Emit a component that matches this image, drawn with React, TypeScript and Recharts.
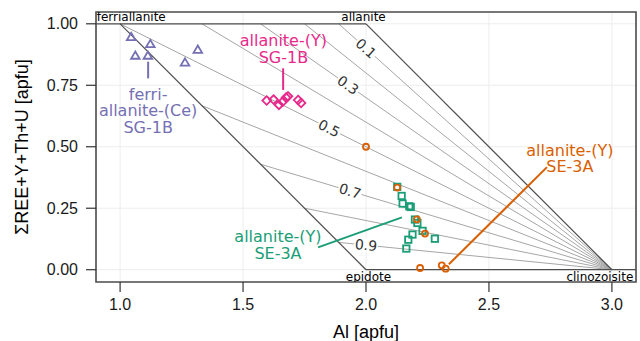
import {
  CartesianGrid,
  ReferenceArea,
  ReferenceLine,
  Scatter,
  ScatterChart,
  XAxis,
  YAxis,
} from "recharts";

const xTicks = [1, 1.5, 2, 2.5, 3];
const yTicks = [0, 0.25, 0.5, 0.75, 1];

// end members of the allanite field
const endMembers = [
  { name: "ferriallanite", x: 0.905, y: 1 },
  { name: "allanite", x: 1.99, y: 1 },
  { name: "epidote", x: 2.01, y: 0 },
  { name: "clinozoisite", x: 3.087, y: 0 },
];

// outline of the field
const fieldEdges = [
  [{ x: 0.902, y: 1 }, { x: 2, y: 1 }],
  [{ x: 1, y: 1 }, { x: 2, y: 0 }],
  [{ x: 2, y: 1 }, { x: 3, y: 0 }],
  [{ x: 2, y: 0 }, { x: 3.098, y: 0 }],
];

// Fe3+/(Fe3+ + Fe2+) isolines, all meet at clinozoisite (3, 0)
const fanRatio = [0.1, 0.2, 0.3, 0.4, 0.5, 0.6, 0.7, 0.8, 0.9];
const fanEndX = [1.889, 1.75, 1.571, 1.333, 1.0, 1.333, 1.571, 1.75, 1.889];
const fanEndY = [1, 1, 1, 1, 1, 0.667, 0.429, 0.25, 0.111];

const fanLabelText = ["0.1", "0.3", "0.5", "0.7", "0.9"];
const fanLabelX = [2.0, 1.927, 1.85, 1.935, 2.0];
const fanLabelY = [0.9, 0.751, 0.575, 0.32, 0.1];

const ferriAllaniteSG1B = [
  { x: 1.045, y: 0.946 },
  { x: 1.123, y: 0.917 },
  { x: 1.062, y: 0.87 },
  { x: 1.113, y: 0.87 },
  { x: 1.264, y: 0.842 },
  { x: 1.316, y: 0.894 },
];

const allaniteSG1B = [
  { x: 1.596, y: 0.688 },
  { x: 1.624, y: 0.692 },
  { x: 1.646, y: 0.67 },
  { x: 1.661, y: 0.683 },
  { x: 1.675, y: 0.7 },
  { x: 1.683, y: 0.705 },
  { x: 1.724, y: 0.69 },
  { x: 1.736, y: 0.678 },
];

const allaniteSE3A_sq = [
  { x: 2.127, y: 0.337 },
  { x: 2.145, y: 0.3 },
  { x: 2.149, y: 0.269 },
  { x: 2.176, y: 0.258 },
  { x: 2.182, y: 0.255 },
  { x: 2.199, y: 0.204 },
  { x: 2.209, y: 0.19 },
  { x: 2.23, y: 0.158 },
  { x: 2.189, y: 0.143 },
  { x: 2.172, y: 0.122 },
  { x: 2.28, y: 0.126 },
  { x: 2.164, y: 0.086 },
];

const allaniteSE3A_ci = [
  { x: 2.0, y: 0.5 },
  { x: 2.127, y: 0.334 },
  { x: 2.207, y: 0.205 },
  { x: 2.24, y: 0.147 },
  { x: 2.22, y: 0.007 },
  { x: 2.308, y: 0.018 },
  { x: 2.324, y: 0.004 },
];

const groupLabels = [
  { text: "ferri-\nallanite-(Ce)\nSG-1B", x: 1.114, y: 0.691, color: "#7570b3" },
  { text: "allanite-(Y)\nSG-1B", x: 1.664, y: 0.908, color: "#e7298a" },
  { text: "allanite-(Y)\nSE-3A", x: 1.642, y: 0.112, color: "#1b9e77" },
  { text: "allanite-(Y)\nSE-3A", x: 2.829, y: 0.463, color: "#d95f02" },
];

const leaders = [
  { from: { x: 1.114, y: 0.846 }, to: { x: 1.114, y: 0.778 }, color: "#7570b3" },
  { from: { x: 1.663, y: 0.819 }, to: { x: 1.663, y: 0.731 }, color: "#e7298a" },
  { from: { x: 1.805, y: 0.091 }, to: { x: 2.146, y: 0.213 }, color: "#1b9e77" },
  { from: { x: 2.337, y: 0.022 }, to: { x: 2.736, y: 0.417 }, color: "#d95f02" },
];

const LABEL_FONT = "'DejaVu Sans', sans-serif";
const AXIS_FONT = "'Liberation Sans', Arial, sans-serif";

const fanLines = fanRatio.map((r, i) => ({ r, x: fanEndX[i], y: fanEndY[i] }));
const fanLabels = fanLabelText.map((t, i) => ({ text: t, x: fanLabelX[i], y: fanLabelY[i] }));

function Triangle(p: any) {
  const { cx, cy } = p;
  return (
    <path
      d={`M${cx},${cy - 4.3}L${cx + 4.3},${cy + 3}L${cx - 4.3},${cy + 3}Z`}
      fill="none"
      stroke="#7570b3"
      strokeWidth={1.8}
    />
  );
}

function Diamond(p: any) {
  const { cx, cy } = p;
  return (
    <path
      d={`M${cx},${cy - 4.3}L${cx + 4.3},${cy}L${cx},${cy + 4.3}L${cx - 4.3},${cy}Z`}
      fill="none"
      stroke="#e7298a"
      strokeWidth={1.8}
    />
  );
}

function Square(p: any) {
  const { cx, cy } = p;
  return (
    <rect
      x={cx - 3.2}
      y={cy - 3.2}
      width={6.4}
      height={6.4}
      fill="none"
      stroke="#1b9e77"
      strokeWidth={1.8}
    />
  );
}

function Ring(p: any) {
  const { cx, cy } = p;
  return <circle cx={cx} cy={cy} r={3} fill="none" stroke="#d95f02" strokeWidth={1.8} />;
}

function GroupLabel(p: any) {
  const { cx, cy, payload } = p;
  const lines: string[] = payload.text.split("\n");
  return (
    <text
      x={cx}
      y={cy}
      fill={payload.color}
      fontSize={16}
      fontFamily={LABEL_FONT}
      textAnchor="middle"
    >
      {lines.map((l, i) => (
        <tspan key={i} x={cx} dy={i === 0 ? 0 : 16.4}>
          {l}
        </tspan>
      ))}
    </text>
  );
}

function FanLabel(p: any) {
  const { cx, cy, payload } = p;
  const angle = (Math.atan(1 - parseFloat(payload.text)) * 180) / Math.PI;
  return (
    <g transform={`rotate(${angle} ${cx} ${cy})`}>
      <rect x={cx - 12} y={cy - 7} width={24} height={14} fill="#ffffff" />
      <text
        x={cx}
        y={cy}
        fill="#333333"
        fontSize={14}
        fontFamily={LABEL_FONT}
        textAnchor="middle"
        dominantBaseline="central"
      >
        {payload.text}
      </text>
    </g>
  );
}

function EndMemberLabel(p: any) {
  const { cx, cy, payload } = p;
  const anchor =
    payload.name === "ferriallanite" ? "start" : payload.name === "clinozoisite" ? "end" : "middle";
  const dy = payload.y > 0.5 ? -3 : 11;
  return (
    <text
      x={cx}
      y={cy + dy}
      fill="#000000"
      fontSize={12}
      fontFamily={LABEL_FONT}
      textAnchor={anchor}
    >
      {payload.name}
    </text>
  );
}

export default function App() {
  return (
    <div style={{ position: "fixed", left: 0, top: 0, width: 640, height: 341, background: "#fff" }}>
      <ScatterChart
        width={640}
        height={341}
        margin={{ top: 12, right: 4, bottom: 0, left: 0 }}
      >
        <CartesianGrid stroke="#ededed" strokeWidth={1} />
        <XAxis
          type="number"
          dataKey="x"
          domain={[0.902, 3.098]}
          ticks={xTicks}
          allowDataOverflow
          height={59}
          tickSize={10}
          tickMargin={7}
          axisLine={false}
          tickLine={{ stroke: "#333333", strokeWidth: 1.2 }}
          tick={{ fill: "#1a1a1a", fontSize: 16, fontFamily: AXIS_FONT }}
          tickFormatter={(v: number) => v.toFixed(1)}
          label={{
            content: (lp: any) => {
              const vb = lp.viewBox ?? { x: 96, y: 282, width: 540, height: 59 };
              return (
                <text
                  x={vb.x + vb.width / 2}
                  y={vb.y + 56}
                  textAnchor="middle"
                  fill="#000"
                  fontSize={18}
                  fontFamily={AXIS_FONT}
                >
                  Al [apfu]
                </text>
              );
            },
          }}
        />
        <YAxis
          type="number"
          dataKey="y"
          domain={[-0.05, 1.048]}
          ticks={yTicks}
          allowDataOverflow
          width={96}
          tickSize={10}
          tickMargin={8}
          axisLine={false}
          tickLine={{ stroke: "#333333", strokeWidth: 1.2 }}
          tick={{ fill: "#1a1a1a", fontSize: 16, fontFamily: AXIS_FONT }}
          tickFormatter={(v: number) => v.toFixed(2)}
          label={{
            content: (lp: any) => {
              const vb = lp.viewBox ?? { x: 0, y: 12, width: 96, height: 270 };
              const cx = vb.x + 28;
              const cy = vb.y + vb.height / 2;
              return (
                <text
                  x={cx}
                  y={cy}
                  transform={`rotate(-90 ${cx} ${cy})`}
                  textAnchor="middle"
                  fill="#000"
                  fontSize={18}
                  fontFamily={AXIS_FONT}
                >
                  ΣREE+Y+Th+U [apfu]
                </text>
              );
            },
          }}
        />

        {fanLines.map((f) => (
          <ReferenceLine
            key={`fan-${f.r}`}
            segment={[{ x: 3, y: 0 }, { x: f.x, y: f.y }]}
            stroke="#a6a6a6"
            strokeWidth={1}
            ifOverflow="visible"
          />
        ))}
        {fieldEdges.map((e, i) => (
          <ReferenceLine
            key={`edge-${i}`}
            segment={e}
            stroke="#4d4d4d"
            strokeWidth={1.2}
            ifOverflow="visible"
          />
        ))}
        {leaders.map((l, i) => (
          <ReferenceLine
            key={`lead-${i}`}
            segment={[l.from, l.to]}
            stroke={l.color}
            strokeWidth={2}
            ifOverflow="visible"
          />
        ))}
        <ReferenceArea
          x1={0.902}
          x2={3.098}
          y1={-0.05}
          y2={1.048}
          fill="none"
          stroke="#4d4d4d"
          strokeWidth={1.6}
          ifOverflow="visible"
        />

        <Scatter data={fanLabels} shape={FanLabel} isAnimationActive={false} />
        <Scatter data={endMembers} shape={EndMemberLabel} isAnimationActive={false} />
        <Scatter data={ferriAllaniteSG1B} shape={Triangle} isAnimationActive={false} />
        <Scatter data={allaniteSG1B} shape={Diamond} isAnimationActive={false} />
        <Scatter data={allaniteSE3A_sq} shape={Square} isAnimationActive={false} />
        <Scatter data={allaniteSE3A_ci} shape={Ring} isAnimationActive={false} />
        <Scatter data={groupLabels} shape={GroupLabel} isAnimationActive={false} />
      </ScatterChart>
    </div>
  );
}
